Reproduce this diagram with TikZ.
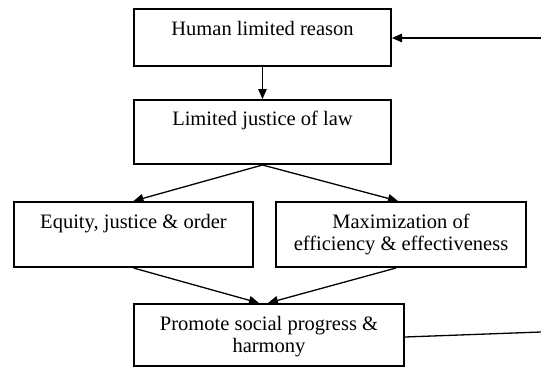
\documentclass[tikz,border=0pt]{standalone}
\usepackage{fontspec}
\setmainfont[Ligatures=NoCommon]{Liberation Serif}
\usetikzlibrary{arrows.meta,calc}
\begin{document}
\begin{tikzpicture}[x=1pt,y=1pt,
  box/.style={draw, line width=2pt, inner sep=0pt, anchor=north west},
  lbl/.style={anchor=base, inner sep=0pt, align=center, font=\fontsize{20.5}{23}\selectfont},
  conn/.style={line width=1.3pt, -{Triangle[length=10pt,width=8.5pt]}},
  plain/.style={line width=1.3pt}]
\useasboundingbox (0,0) rectangle (541,-367);
% boxes
\node[box, minimum width=257pt, minimum height=57pt] (h) at (133,-8) {};
\node[box, minimum width=257pt, minimum height=64pt] (l) at (133,-99) {};
\node[box, minimum width=239pt, minimum height=65pt] (e) at (13,-201) {};
\node[box, minimum width=250pt, minimum height=65pt] (m) at (275,-201) {};
\node[box, minimum width=270pt, minimum height=62pt] (p) at (133,-303) {};
% texts
\node[lbl] (ht) at ($(h.north)+(0,-27)$) {Human limited reason};
\node[lbl] (lt) at ($(l.north)+(0,-26)$) {Limited justice of law};
\node[lbl] (et) at ($(e.north)+(0,-27)$) {Equity, justice \& order};
\node[lbl] (mt1) at ($(m.north)+(0,-27)$) {Maximization of};
\node[lbl] (mt2) at ($(m.north)+(0,-49)$) {efficiency \& effectiveness};
\node[lbl] (pt1) at ($(p.north)+(0,-27)$) {Promote social progress \&};
\node[lbl] (pt2) at ($(p.north)+(0,-49)$) {harmony};
% connectors
\coordinate (rin) at (541,-38);
\coordinate (rout) at (541,-332);
\draw[conn] (rin) -- (rin -| h.east);
\draw[conn] (h.south) -- (l.north);
\draw[conn] (l.south) -- (e.north);
\draw[conn] (l.south) -- ($(m.north)+(-3,0)$);
\draw[conn] (e.south) -- ($(p.north)+(-10,0)$);
\draw[conn] ($(m.south)+(-5,0)$) -- ($(p.north)+(-1,0)$);
\draw[plain] ($(p.east)+(0,-2)$) -- (rout);
\end{tikzpicture}
\end{document}
